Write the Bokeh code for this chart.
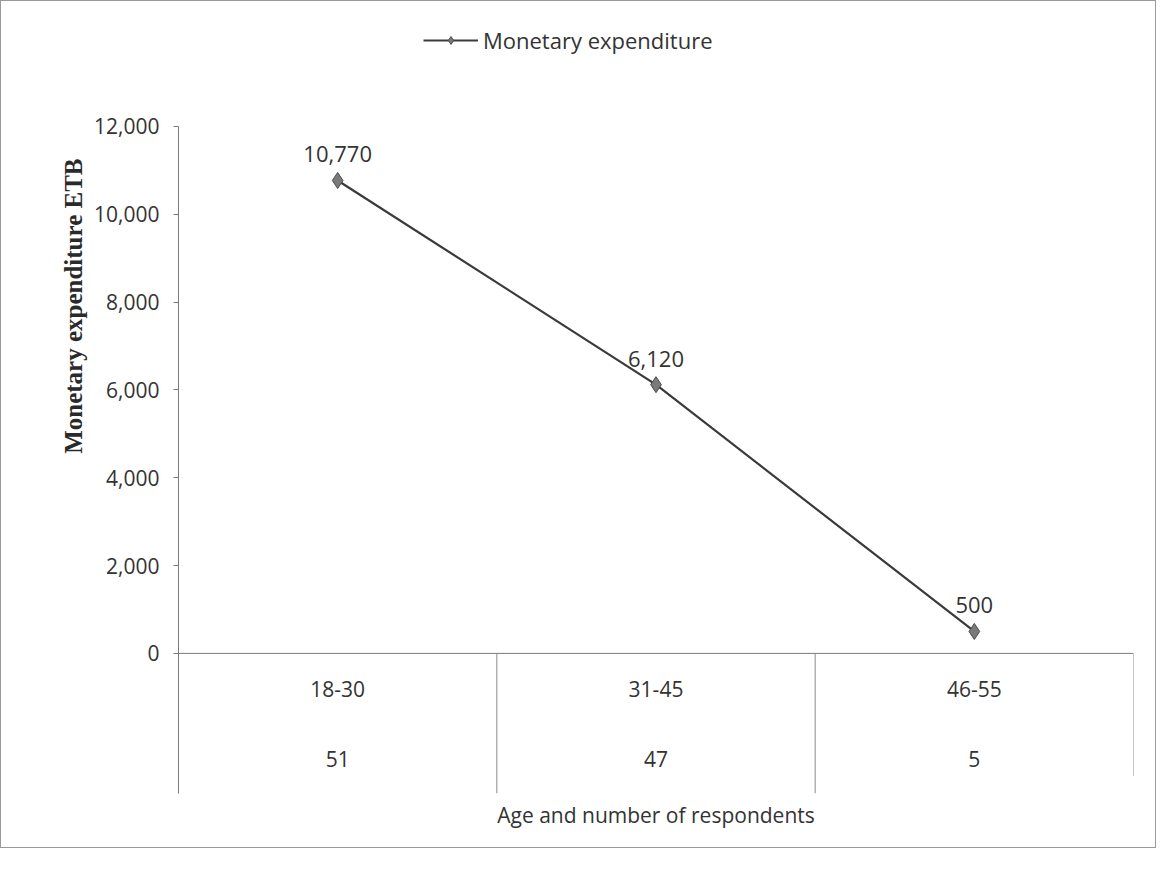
from bokeh.plotting import figure
from bokeh.models import Range1d, FixedTicker, Legend, LegendItem, Title, ColumnDataSource, NumeralTickFormatter
from bokeh.core.properties import value
from bokeh.embed import file_html
from bokeh.resources import INLINE

ages = ["18-30", "31-45", "46-55"]
respondents = ["51", "47", "5"]
expenditure = [10770, 6120, 500]
labels = ["10,770", "6,120", "500"]
yticks = [0, 2000, 4000, 6000, 8000, 10000, 12000]

Y0, Y1 = -3190, 14345
xs = [i + 0.5 for i in range(len(ages))]
src = ColumnDataSource(dict(x=xs, y=expenditure, lab=labels, age=ages, n=respondents))

p = figure(width=1156, height=848, output_backend="svg", toolbar_location=None,
           x_range=Range1d(0, 3), y_range=Range1d(Y0, Y1),
           min_border_left=177, min_border_right=24, min_border_top=22, min_border_bottom=56)
p.styles = {"border": "1px solid #9a9a9a"}
p.outline_line_color = None
p.xaxis.visible = False
p.xgrid.visible = False
p.ygrid.visible = False

ya = p.yaxis[0]
ya.ticker = FixedTicker(ticks=yticks)
ya.formatter = NumeralTickFormatter(format="0,0")
ya.bounds = (Y0, 12000)
ya.major_label_text_font = "Open Sans"
ya.major_label_text_font_size = "21px"
ya.major_label_text_color = "#333333"
ya.major_label_standoff = 14
ya.axis_line_color = "#7a7a7a"
ya.major_tick_line_color = "#7a7a7a"
ya.major_tick_out = 5
ya.major_tick_in = 0
ya.minor_tick_line_color = None

ytitle = Title(text="Monetary expenditure ETB", align="right", offset=135,
               text_font="Liberation Serif", text_font_style="bold", text_font_size="25px",
               text_color="#2a2a2a", standoff=10)
p.add_layout(ytitle, "left")

# table under the plot: baseline and separators
p.segment(x0=[0], y0=[0], x1=[3], y1=[0], line_color="#7a7a7a", line_width=1)
p.segment(x0=[1, 2, 3], y0=[0, 0, 0], x1=[1, 2, 3], y1=[Y0, Y0, Y0 + 400],
          line_color="#8a8a8a", line_width=1)
p.text(x="x", y=-800, text="age", source=src, text_align="center", text_baseline="middle",
       text_font=value("Open Sans"), text_font_size="21px", text_color="#333333")
p.text(x="x", y=-2400, text="n", source=src, text_align="center", text_baseline="middle",
       text_font=value("Open Sans"), text_font_size="21px", text_color="#333333")

line = p.line(x="x", y="y", source=src, line_color="#3a3a3a", line_width=2.2)
mk = p.scatter(x="x", y="y", source=src, marker="diamond", size=16,
               fill_color="#7a7a7a", line_color="#4a4a4a", line_width=1)
p.text(x="x", y="y", text="lab", source=src, text_align="center", text_baseline="bottom",
       y_offset=-18, text_font=value("Open Sans"), text_font_size="22px", text_color="#333333")

legend = Legend(items=[LegendItem(label="Monetary expenditure", renderers=[line, mk])],
                orientation="horizontal", location=(245, 738), border_line_color=None,
                background_fill_alpha=0,
                label_text_font="Open Sans", label_text_font_size="22px",
                label_text_color="#333333", glyph_width=55, margin=0, padding=2)
p.add_layout(legend)

t = Title(text="Age and number of respondents", align="center", text_font="Open Sans",
          text_font_size="21px", text_font_style="normal", text_color="#333333")
p.add_layout(t, "below")

open("out.html", "w").write(file_html(p, INLINE))
